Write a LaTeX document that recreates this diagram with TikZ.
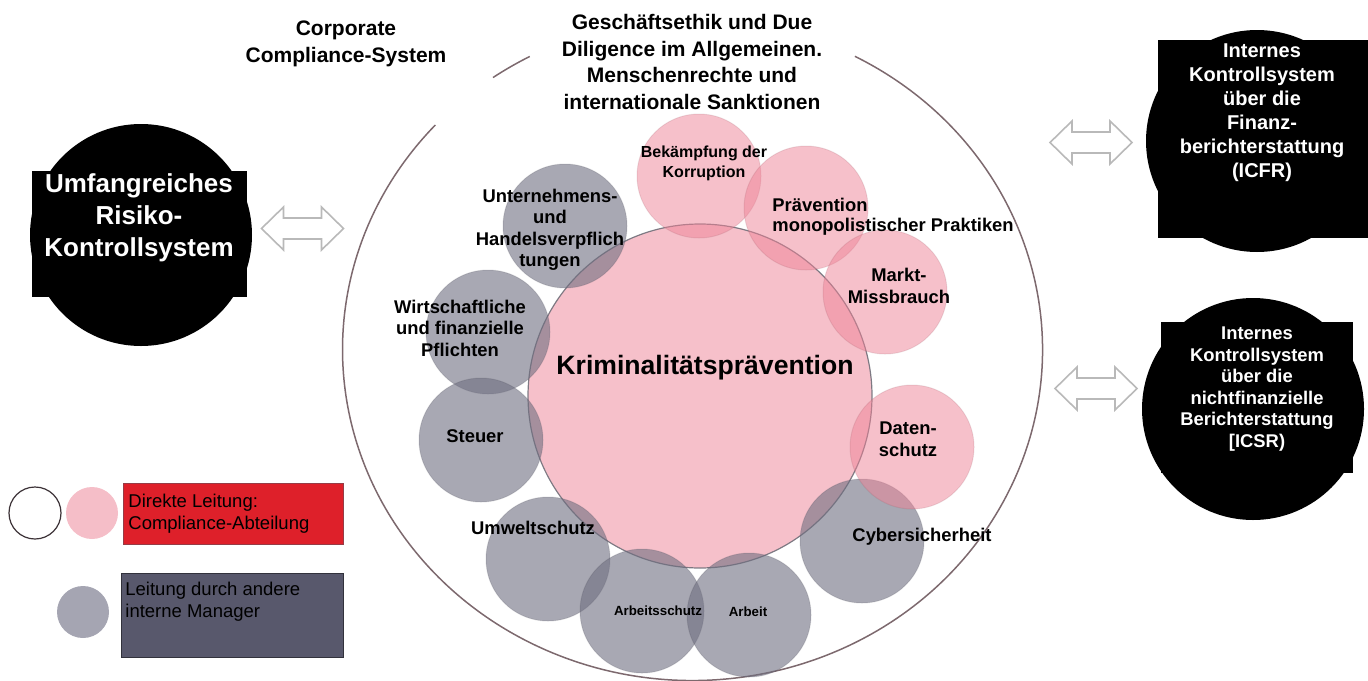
\documentclass[tikz,border=0pt]{standalone}
\usepackage{fontspec}
\setmainfont{Liberation Sans}
\definecolor{pinkc}{RGB}{238,130,150}
\definecolor{grayc}{RGB}{110,110,128}
\definecolor{outerc}{RGB}{125,105,110}
\definecolor{legred}{RGB}{222,32,42}
\definecolor{legdark}{RGB}{88,88,108}
\definecolor{arrowc}{RGB}{185,185,185}
\begin{document}
\begin{tikzpicture}[x=0.5pt,y=-0.5pt,
  pinkcirc/.style={circle, inner sep=0pt, minimum size=62pt, fill=pinkc, fill opacity=0.5, draw=pinkc!60!black, draw opacity=0.15, line width=0.5pt},
  graycirc/.style={circle, inner sep=0pt, minimum size=62pt, fill=grayc, fill opacity=0.6, draw=grayc!60!black, draw opacity=0.15, line width=0.5pt},
  blackcirc/.style={circle, inner sep=0pt, fill=black, minimum size=111pt},
  lbl/.style={inner sep=0pt, align=center, text=black, font=\bfseries\fontsize{9.2pt}{10.75pt}\selectfont},
  toplbl/.style={inner sep=0pt, align=center, text=black, font=\bfseries\fontsize{10.5pt}{13.25pt}\selectfont},
  leglbl/.style={inner sep=0pt, align=left, anchor=west, text=black, font=\fontsize{9.25pt}{11pt}\selectfont},
  hollowarrow/.pic={\draw[draw=arrowc, line width=0.8pt, fill=white, line join=miter]
     (-41,0) -- (-19,-21.5) -- (-19,-10.5) -- (19,-10.5) -- (19,-21.5) -- (41,0)
     -- (19,21.5) -- (19,10.5) -- (-19,10.5) -- (-19,21.5) -- cycle;}
]
\useasboundingbox (0,0) rectangle (1368,680);

% outer ellipse (Corporate Compliance-System)
\coordinate (oc) at (692.5,349.5);
\draw[outerc, line width=0.75pt] ([shift={(-62.35:350 and 331)}]oc) arc[start angle=-62.35, end angle=222.7, x radius=350, y radius=331];
\draw[outerc, line width=0.75pt] ([shift={(-124.75:350 and 331)}]oc) arc[start angle=-124.75, end angle=-117.7, x radius=350, y radius=331];

% big circle
\node[pinkcirc, minimum size=172pt, draw={rgb,255:red,105;green,105;blue,115}, draw opacity=0.85, line width=0.6pt] (krim) at (700,396) {};

% gray circles
\node[graycirc] (unt) at (565,226) {};
\node[graycirc] (wirt) at (488,332) {};
\node[graycirc] (steu) at (481,440) {};
\node[graycirc] (umw) at (548,559) {};
\node[graycirc] (arbs) at (642,611) {};
\node[graycirc] (arb) at (749,615) {};
\node[graycirc] (cyb) at (862,541) {};
% pink circles
\node[pinkcirc] (bek) at (699,176) {};
\node[pinkcirc] (prae) at (806,208) {};
\node[pinkcirc] (markt) at (885,292) {};
\node[pinkcirc] (daten) at (912,447) {};

% labels
\node[toplbl] (corp) at (346,44) {Corporate\\Compliance-System};
\node[toplbl] (ethik) at (692,62) {Geschäftsethik und Due\\Diligence im Allgemeinen.\\Menschenrechte und\\internationale Sanktionen};
\node[lbl] (tunt) at (550,230) {Unternehmens-\\und\\Handelsverpflich\\tungen};
\node[lbl] (twirt) at (460,328) {Wirtschaftliche\\und finanzielle\\Pflichten};
\node[lbl, font=\bfseries\fontsize{8pt}{10pt}\selectfont] (tbek) at (704,163) {Bekämpfung der\\Korruption};
\node[lbl, align=left, anchor=west, font=\bfseries\fontsize{9.2pt}{10pt}\selectfont] (tprae) at (772,217) {Prävention\\monopolistischer Praktiken};
\node[lbl] (tmarkt) at (899,286) {Markt-\\Missbrauch};
\node[lbl, font=\bfseries\fontsize{13.3pt}{15pt}\selectfont] (tkrim) at (705,368) {Kriminalitätsprävention};
\node[lbl] (tsteu) at (475,436) {Steuer};
\node[lbl] (tumw) at (533,528) {Umweltschutz};
\node[lbl, font=\bfseries\fontsize{6.65pt}{8pt}\selectfont] (tarbs) at (658,611) {Arbeitsschutz};
\node[lbl, font=\bfseries\fontsize{6.65pt}{8pt}\selectfont] (tarb) at (748,612) {Arbeit};
\node[lbl] (tcyb) at (922,537) {Cybersicherheit};
\node[lbl, font=\bfseries\fontsize{9.2pt}{11pt}\selectfont] (tdaten) at (908,439) {Daten-\\schutz};

% black circles
\node[blackcirc] (risk) at (141,235) {};
\fill (32,171) rectangle (247,297);
\node[lbl, text=white, font=\bfseries\fontsize{13pt}{16pt}\selectfont] (trisk) at (139,218) {Umfangreiches\\Risiko-\\Kontrollsystem};

\node[blackcirc] (icfr) at (1257,141) {};
\fill (1158,40) rectangle (1368,238);
\node[lbl, text=white, font=\bfseries\fontsize{10pt}{12pt}\selectfont] (ticfr) at (1262,113) {Internes\\Kontrollsystem\\über die\\Finanz-\\berichterstattung\\(ICFR)};

\node[blackcirc] (icsr) at (1253,409) {};
\fill (1161,322) rectangle (1353,473);
\node[lbl, text=white, font=\bfseries\fontsize{9.2pt}{10.8pt}\selectfont] (ticsr) at (1257,389) {Internes\\Kontrollsystem\\über die\\nichtfinanzielle\\Berichterstattung\\{[}ICSR)};

% arrows
\pic at (302.5,228.5) {hollowarrow};
\pic at (1091,142.5) {hollowarrow};
\pic at (1096,388.5) {hollowarrow};

% legend
\node[circle, inner sep=0pt, minimum size=26pt, draw={rgb,255:red,60;green,50;blue,55}, line width=0.6pt, fill=white] (lgw) at (35,513) {};
\node[circle, inner sep=0pt, minimum size=26pt, fill={rgb,255:red,245;green,190;blue,200}] (lgp) at (92,513) {};
\node[circle, inner sep=0pt, minimum size=26pt, fill={rgb,255:red,165;green,165;blue,178}] (lgg) at (83,612) {};
\filldraw[fill=legred, draw={rgb,255:red,150;green,60;blue,70}, line width=0.5pt] (123,483) rectangle (343,544);
\filldraw[fill=legdark, draw={rgb,255:red,50;green,50;blue,60}, line width=0.5pt] (121,573) rectangle (343,657);
\node[leglbl] (tlr) at (128,514) {Direkte Leitung:\\Compliance-Abteilung};
\node[leglbl] (tld) at (125,602) {Leitung durch andere\\interne Manager};
\end{tikzpicture}
\end{document}
